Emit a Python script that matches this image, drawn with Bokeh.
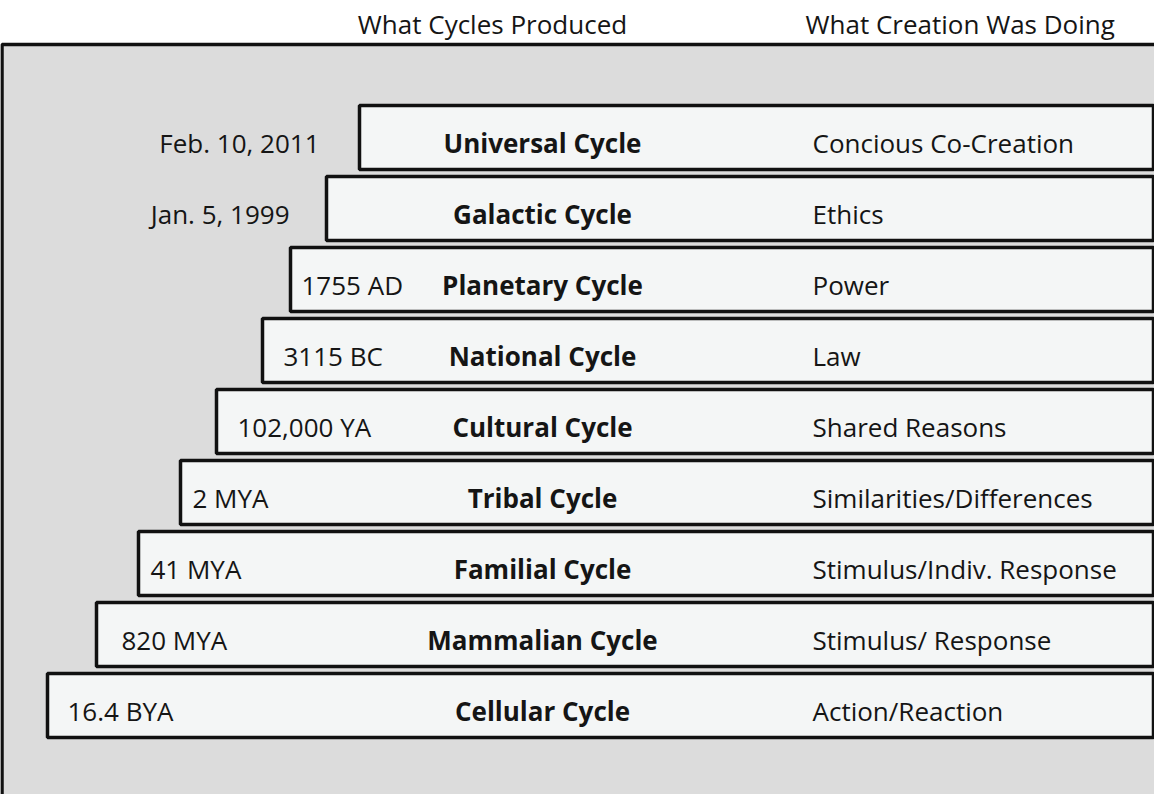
from bokeh.plotting import figure
from bokeh.models import Range1d, ColumnDataSource
from bokeh.core.properties import value
from bokeh.embed import file_html
from bokeh.resources import INLINE

# ---- data ----
cycles = ["Universal Cycle", "Galactic Cycle", "Planetary Cycle", "National Cycle",
          "Cultural Cycle", "Tribal Cycle", "Familial Cycle", "Mammalian Cycle",
          "Cellular Cycle"]
start_dates = ["Feb. 10, 2011", "Jan. 5, 1999", "1755 AD", "3115 BC", "102,000 YA",
               "2 MYA", "41 MYA", "820 MYA", "16.4 BYA"]
creation = ["Concious Co-Creation", "Ethics", "Power", "Law", "Shared Reasons",
            "Similarities/Differences", "Stimulus/Indiv. Response",
            "Stimulus/ Response", "Action/Reaction"]
headers = ["What Cycles Produced", "What Creation Was Doing"]

# ---- layout (screen-like units) ----
bar_left = [367, 334, 298, 270, 224, 188, 146, 104, 55]
date_x = [327, 297, 309, 291, 245, 200, 158, 129, 75]
date_align = ["right", "right", "left", "left", "left", "left", "left", "left", "left"]
row_top0, row_pitch, bar_h = 113, 71, 64
n = len(cycles)
tops = [row_top0 + row_pitch * i for i in range(n)]
bottoms = [t + bar_h for t in tops]
mids = [t + bar_h / 2 for t in tops]

W, H = 1154, 794
p = figure(width=W, height=H, output_backend="svg", toolbar_location=None,
           x_range=Range1d(8, 8 + W), y_range=Range1d(8 + H, 8),
           min_border=0, outline_line_color=None, background_fill_color="white",
           border_fill_color="white")
p.axis.visible = False
p.grid.visible = False

FONT = value("Open Sans")
TXT = "#151515"
FS = "26px"

# outer gray panel
p.quad(left=[9.5], right=[1200], top=[52], bottom=[900],
       fill_color="#dcdcdc", line_color="#111111", line_width=3.5)

# bars
src = ColumnDataSource(dict(left=bar_left, right=[1161] * n, top=tops, bottom=bottoms))
p.quad(left="left", right="right", top="top", bottom="bottom", source=src,
       fill_color="#f4f6f6", line_color="#111111", line_width=3.5)

# text rows
base = [m + 5 for m in mids]
for i in range(n):
    p.text(x=[date_x[i]], y=[base[i]], text=[start_dates[i]], text_align=date_align[i],
           text_baseline="alphabetic", text_font=FONT, text_font_size=FS,
           text_color=TXT)
p.text(x=[550] * n, y=base, text=cycles, text_align="center",
       text_baseline="alphabetic", text_font=FONT, text_font_size=FS,
       text_font_style="bold", text_color=TXT)
p.text(x=[820] * n, y=base, text=creation, text_align="left",
       text_baseline="alphabetic", text_font=FONT, text_font_size=FS,
       text_color=TXT)

# headers
p.text(x=[500], y=[31], text=[headers[0]], text_align="center",
       text_baseline="alphabetic", text_font=FONT, text_font_size=FS,
       text_color=TXT)
p.text(x=[813], y=[31], text=[headers[1]], text_align="left",
       text_baseline="alphabetic", text_font=FONT, text_font_size=FS,
       text_color=TXT)

open("out.html", "w").write(file_html(p, INLINE))
